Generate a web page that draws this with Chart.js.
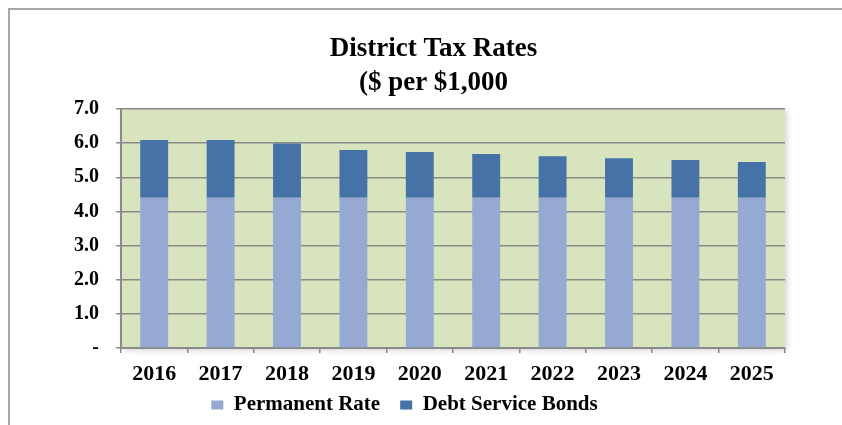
<!DOCTYPE html>
<html>
<head>
<meta charset="utf-8">
<title>District Tax Rates</title>
<script src="https://cdn.jsdelivr.net/npm/chart.js@4/dist/chart.umd.min.js"></script>
<style>
  html, body { margin: 0; padding: 0; background: #ffffff; }
  #wrap { width: 842px; height: 425px; }
</style>
</head>
<body>
<div id="wrap"><canvas id="chart" width="842" height="425"></canvas></div>
<script>
// Fiscal years shown on the category axis
const years = ['2016', '2017', '2018', '2019', '2020', '2021', '2022', '2023', '2024', '2025'];
// Permanent levy rate, $ per $1,000 of assessed value
const permanentRate = [4.40, 4.40, 4.40, 4.40, 4.40, 4.40, 4.40, 4.40, 4.40, 4.40];
// Debt service (bond) levy stacked on top of the permanent rate
const debtServiceBonds = [1.69, 1.69, 1.59, 1.40, 1.34, 1.28, 1.22, 1.16, 1.11, 1.05];
// Value-axis labels, from 0 up to 7
const yTickLabels = ['-', '1.0', '2.0', '3.0', '4.0', '5.0', '6.0', '7.0'];
const titleLines = ['District Tax Rates', '($ per $1,000'];

const serif = "'Liberation Serif', 'Times New Roman', serif";
const gridGray = '#8a8a8a';

// Page background, frame lines and the shaded plot area
const backdrop = {
  id: 'backdrop',
  beforeDraw(chart) {
    const { ctx, chartArea: a } = chart;
    ctx.save();
    ctx.fillStyle = '#ffffff';
    ctx.fillRect(0, 0, chart.width, chart.height);
    ctx.strokeStyle = '#a6a6a6';
    ctx.lineWidth = 2;
    ctx.beginPath();
    ctx.moveTo(8, 9); ctx.lineTo(chart.width, 9);
    ctx.moveTo(9, 9); ctx.lineTo(9, chart.height);
    ctx.stroke();
    ctx.shadowColor = 'rgba(0,0,0,0.18)';
    ctx.shadowBlur = 6;
    ctx.shadowOffsetX = 2;
    ctx.shadowOffsetY = 2;
    ctx.fillStyle = '#d7e4bd';
    ctx.fillRect(a.left, a.top, a.right - a.left, a.bottom - a.top);
    ctx.restore();
  }
};

// Nudge the title and legend blocks to their spots after layout
const blockOffsets = {
  id: 'blockOffsets',
  afterLayout(chart) {
    const t = chart.titleBlock;
    if (t) { t.left += 29; t.right += 29; }
    const l = chart.legend;
    if (l) {
      const dy = 405 - (l.top + 20 + 10.5);
      l.top += dy; l.bottom += dy;
    }
  }
};

new Chart(document.getElementById('chart'), {
  type: 'bar',
  data: {
    labels: years,
    datasets: [
      {
        label: 'Permanent Rate',
        data: permanentRate,
        backgroundColor: '#95a9d2',
        borderWidth: 0
      },
      {
        label: 'Debt Service Bonds',
        data: debtServiceBonds,
        backgroundColor: '#4572a7',
        borderWidth: 0
      }
    ]
  },
  options: {
    responsive: false,
    animation: false,
    layout: { padding: { top: 11, left: 24, right: 57, bottom: -14 } },
    datasets: {
      bar: { barPercentage: 0.42, categoryPercentage: 1.0 }
    },
    scales: {
      x: {
        stacked: true,
        afterFit(scale) { scale.height = 40; },
        grid: {
          display: true,
          drawOnChartArea: false,
          drawTicks: true,
          tickLength: 5,
          color: gridGray,
          lineWidth: 1.5
        },
        border: { display: true, color: gridGray, width: 2 },
        ticks: {
          color: '#000000',
          padding: 8,
          autoSkip: false,
          maxRotation: 0,
          font: { family: serif, size: 22, weight: 'bold' }
        }
      },
      y: {
        stacked: true,
        min: 0,
        max: 7,
        afterFit(scale) { scale.width = 97; },
        grid: {
          color: gridGray,
          lineWidth: 1.5,
          drawTicks: true,
          tickLength: 5
        },
        border: { display: true, color: gridGray, width: 2 },
        ticks: {
          stepSize: 1,
          color: '#000000',
          padding: 17,
          font: { family: serif, size: 20, weight: 'bold' },
          callback: (value, index) => yTickLabels[index]
        }
      }
    },
    plugins: {
      title: {
        display: true,
        text: titleLines,
        color: '#000000',
        font: { family: serif, size: 27, weight: 'bold', lineHeight: 1.26 },
        padding: { top: 21, bottom: 9 }
      },
      legend: {
        display: true,
        position: 'bottom',
        labels: {
          color: '#000000',
          boxWidth: 12,
          boxHeight: 9,
          padding: 20,
          font: { family: serif, size: 21, weight: 'bold' }
        }
      },
      tooltip: { enabled: false }
    }
  },
  plugins: [backdrop, blockOffsets]
});
</script>
</body>
</html>
